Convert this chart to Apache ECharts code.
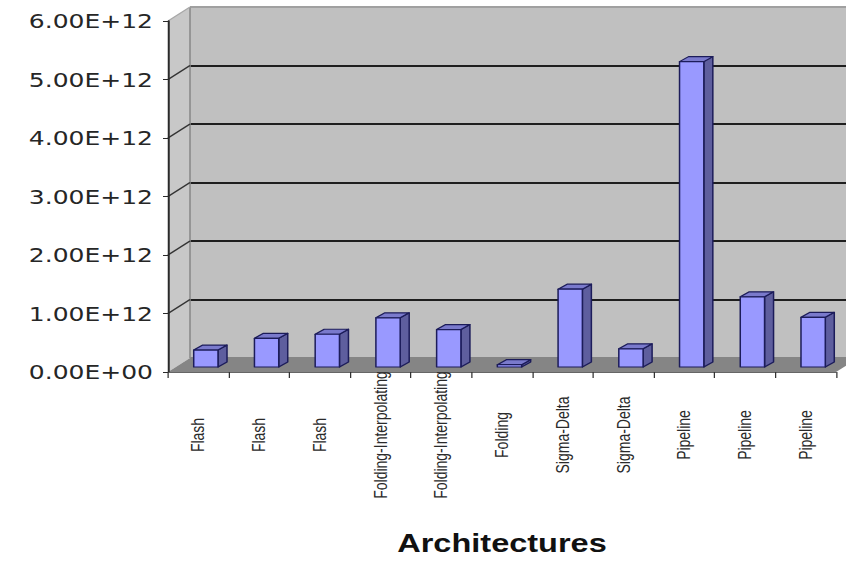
<!DOCTYPE html>
<html>
<head>
<meta charset="utf-8">
<title>Architectures</title>
<script src="https://cdn.jsdelivr.net/npm/echarts@6/dist/echarts.min.js"></script>
<style>
html, body { margin: 0; padding: 0; background: #fff; overflow: hidden; }
/* the source picture is an Excel chart stretched sideways, so draw narrow and stretch */
#chart { width: 677px; height: 563px; transform: scaleX(1.25); transform-origin: 0 0; }
</style>
</head>
<body>
<div id="chart"></div>
<script>
const architectures = ['Flash', 'Flash', 'Flash', 'Folding-Interpolating', 'Folding-Interpolating',
	'Folding', 'Sigma-Delta', 'Sigma-Delta', 'Pipeline', 'Pipeline', 'Pipeline'];
const values = [0.29e12, 0.49e12, 0.56e12, 0.84e12, 0.64e12, 0.04e12,
	1.33e12, 0.31e12, 5.22e12, 1.20e12, 0.85e12];
const yMin = 0;
const yMax = 6e12;
const yStep = 1e12;

// depth of the fake 3d box (pre-stretch px)
const DX = 17.6, DY = 14;
// bar placement inside the depth
const BX = 6, BY = 5, SX = 7.2, SY = 5;

function sci(v) {
	const parts = Number(v).toExponential(2).split('e');
	return parts[0] + 'E' + parts[1][0] + parts[1].slice(1).padStart(2, '0');
}

function renderWalls(params, api) {
	const cs = params.coordSys;
	const x = cs.x, y = cs.y, w = cs.width, h = cs.height;
	const kids = [
		{type: 'polygon', shape: {points: [[x, y], [x + DX, y - DY], [x + DX, y + h - DY], [x, y + h]]},
			style: {fill: '#c8c8c8'}},
		{type: 'polygon', shape: {points: [[x, y + h], [x + DX, y + h - DY], [x + w + DX, y + h - DY], [x + w, y + h]]},
			style: {fill: '#858585'}},
		{type: 'line', shape: {x1: x + DX, y1: y - DY, x2: x + DX, y2: y + h - DY},
			style: {stroke: '#8c8c8c', lineWidth: 1.3}},
		{type: 'line', shape: {x1: x, y1: y, x2: x + DX, y2: y - DY},
			style: {stroke: '#a8a8a8', lineWidth: 1}},
		{type: 'line', shape: {x1: x + DX, y1: y - DY, x2: x + w + DX, y2: y - DY},
			style: {stroke: '#a0a0a0', lineWidth: 1}}
	];
	for (let v = yMin + yStep; v < yMax; v += yStep) {
		const py = api.coord([0, v])[1];
		kids.push({type: 'line', shape: {x1: x, y1: py, x2: x + DX, y2: py - DY},
			style: {stroke: '#333', lineWidth: 1.4}});
	}
	return {type: 'group', children: kids};
}

function renderBar(params, api) {
	const i = api.value(0);
	const base = api.coord([i, 0]);
	const top = api.coord([i, api.value(1)]);
	const bw = api.size([1, 0])[0] * 0.4;
	const x0 = base[0] - bw / 2 + BX;
	const x1 = x0 + bw;
	const yb = base[1] - BY;
	const yt = top[1] - BY;
	const edge = {stroke: '#1c1c5a', lineWidth: 1.2, lineJoin: 'round'};
	return {
		type: 'group',
		children: [
			{type: 'polygon', shape: {points: [[x1, yt], [x1 + SX, yt - SY], [x1 + SX, yb - SY], [x1, yb]]},
				style: Object.assign({fill: '#5e5e9e'}, edge)},
			{type: 'polygon', shape: {points: [[x0, yt], [x0 + SX, yt - SY], [x1 + SX, yt - SY], [x1, yt]]},
				style: Object.assign({fill: '#7a7acc'}, edge)},
			{type: 'rect', shape: {x: x0, y: yt, width: bw, height: yb - yt},
				style: Object.assign({fill: '#9999ff'}, edge)}
		]
	};
}

const chart = echarts.init(document.getElementById('chart'), null, {renderer: 'svg'});

const option = {
	animation: false,
	backgroundColor: '#fff',
	grid: [
		{left: 134.4, top: 21, width: 534.4, height: 351, show: false},
		{left: 152, top: 7, width: 534.4, height: 351, show: true,
			backgroundColor: '#c0c0c0', borderWidth: 0}
	],
	xAxis: [
		{
			type: 'category', gridIndex: 0, data: architectures, z: 10,
			axisLine: {show: true, lineStyle: {color: '#666', width: 1}},
			axisTick: {show: true, length: 6, lineStyle: {color: '#333', width: 1}},
			axisLabel: {
				rotate: 90, interval: 0, align: 'center', margin: 63,
				fontFamily: 'Liberation Sans', fontSize: 14, color: '#2a2a2a'
			},
			name: 'Architectures',
			nameLocation: 'middle',
			nameGap: 158,
			nameTextStyle: {fontFamily: 'Liberation Sans', fontWeight: 'bold', fontSize: 26, color: '#111'}
		},
		{type: 'category', gridIndex: 1, data: architectures, show: false}
	],
	yAxis: [
		{
			type: 'value', gridIndex: 0, min: yMin, max: yMax, interval: yStep, z: 10,
			axisLine: {show: true, lineStyle: {color: '#2a2a2a', width: 1.6}},
			axisTick: {show: true, length: 4, lineStyle: {color: '#2a2a2a', width: 1}},
			splitLine: {show: false},
			axisLabel: {
				margin: 12, formatter: sci,
				fontFamily: 'DejaVu Sans', fontSize: 20, color: '#262626'
			}
		},
		{
			type: 'value', gridIndex: 1, min: yMin, max: yMax, interval: yStep,
			axisLine: {show: false}, axisTick: {show: false}, axisLabel: {show: false},
			splitLine: {show: true, lineStyle: {
				color: ['#858585', '#1e1e1e', '#1e1e1e', '#1e1e1e', '#1e1e1e', '#1e1e1e', '#a0a0a0'],
				width: 2
			}}
		}
	],
	series: [
		{
			type: 'custom', name: 'walls', xAxisIndex: 0, yAxisIndex: 0, z: 1, silent: true,
			data: [[0, 0]], renderItem: renderWalls
		},
		{
			type: 'custom', name: 'bars', xAxisIndex: 0, yAxisIndex: 0, z: 3,
			data: values.map((v, i) => [i, v]), renderItem: renderBar
		}
	]
};

chart.setOption(option);
</script>
</body>
</html>
